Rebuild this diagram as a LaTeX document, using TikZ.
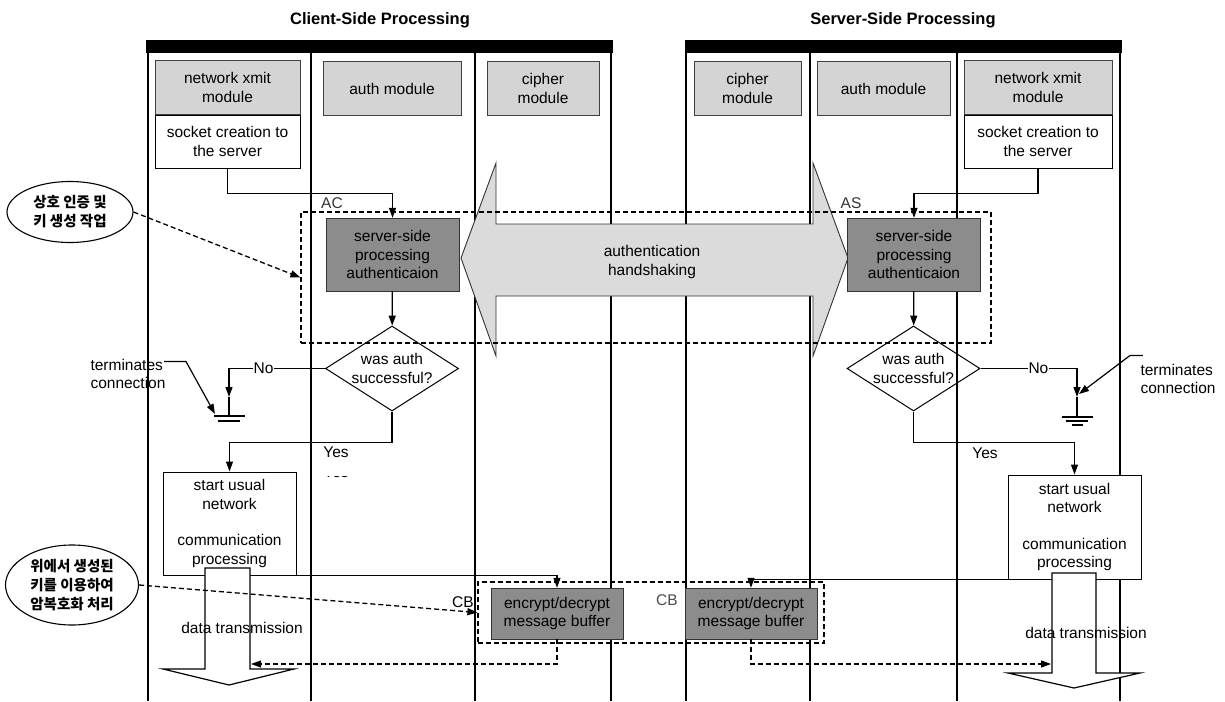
\documentclass[tikz,border=0pt]{standalone}
\usepackage{fontspec}
\setmainfont{Liberation Sans}
\newfontfamily\krfont{Noto Sans CJK KR}
\usetikzlibrary{shapes.geometric,arrows.meta,positioning}

\tikzset{
  modbox/.style={draw=black!75, fill=black!17, minimum height=54pt, align=center, inner sep=2pt},
  plainbox/.style={draw, fill=white, align=center, inner sep=2pt, line width=1pt},
  darkbox/.style={draw=black!80, fill=black!45, minimum width=133pt, minimum height=73pt, align=center},
  decision/.style={draw, diamond, aspect=1.6, inner sep=-3pt, minimum width=133pt, minimum height=85pt, align=center, line width=1pt},
  zone/.style={draw, line width=1.2pt, dash pattern=on 5pt off 3pt, inner sep=0pt},
  note/.style={draw, ellipse, line width=1.1pt, inner sep=0pt, align=center, font=\krfont\bfseries\fontsize{14.5}{19}\selectfont},
  flow/.style={-{Triangle[length=10pt,width=7pt]}, line width=1.2pt},
  dflow/.style={flow, line width=1.3pt, dash pattern=on 5pt off 3pt},
  lane/.style={line width=1.5pt},
  title/.style={font=\bfseries\fontsize{16.5}{20}\selectfont}
}

\begin{document}
\begin{tikzpicture}[x=1pt, y=-1pt, font=\fontsize{15.5}{18.5}\selectfont]
\useasboundingbox (0,0) rectangle (1225,701);

% pools and lanes
\node[title] (clienttitle) at (380,20) {Client-Side Processing};
\node[title] (servertitle) at (903,20) {Server-Side Processing};
\fill (146,40) rectangle (613,53);
\fill (685,40) rectangle (1122,53);
\foreach \x in {148,311,475,611,686,810,957,1120}
  \draw[lane] (\x,53) -- (\x,701);

% handshake arrow
\draw[fill=black!14, draw=black!80, line width=0.9pt]
  (461,258) -- (496,163) -- (496,224) -- (813,224) -- (813,163) -- (848,258)
  -- (813,356) -- (813,296) -- (496,296) -- (496,356) -- cycle;
\node[align=center] (hs) at (652,262) {authentication\\handshaking};

\node[zone, minimum width=690pt, minimum height=131pt] (authzone) at (646,277.5) {};
\node[zone, minimum width=346pt, minimum height=61pt] (cbzone) at (651,612.5) {};

% module headers
\node[modbox, minimum width=145pt] (netC) at (227.5,87.5) {network xmit\\module};
\node[plainbox, minimum width=145pt, minimum height=53pt, below=0pt of netC] (sockC) {socket creation to\\the server};
\node[modbox, minimum width=138pt] (authC) at (392,88.5) {auth module};
\node[modbox, minimum width=112pt] (ciphC) at (543,88.5) {cipher\\module};
\node[modbox, minimum width=107pt] (ciphS) at (747.5,88.5) {cipher\\module};
\node[modbox, minimum width=133pt] (authS) at (883.5,88.5) {auth module};
\node[modbox, minimum width=148pt] (netS) at (1038,87.5) {network xmit\\module};
\node[plainbox, minimum width=148pt, minimum height=53pt, below=0pt of netS] (sockS) {socket creation to\\the server};

% authentication
\node[darkbox] (procC) at (392.5,254.5) {server-side\\processing\\authenticaion};
\node[darkbox] (procS) at (914,254.5) {server-side\\processing\\authenticaion};
\node[decision] (decC) at (392,368.5) {was auth\\successful?};
\node[decision] (decS) at (913.5,368.5) {was auth\\successful?};
\node[black!80] (acl) at (332,203) {AC};
\node[black!80] (asl) at (851,203) {AS};

\draw[flow] (sockC.south) -- ++(0,25) -| (procC.north);
\draw[flow] (sockS.south) -- ++(0,25) -| (procS.north);
\draw[flow] (procC) -- (decC);
\draw[flow] (procS) -- (decS);

% terminate branches
\coordinate (gndC) at (229,397);
\coordinate (gndS) at (1077,397);
\draw[flow] (decC.west) -| node[pos=0.32, fill=white, inner sep=1pt] (noC) {No} (gndC);
\draw[flow] (decS.east) -| node[pos=0.3, fill=white, inner sep=1pt] (noS) {No} (gndS);
\draw[line width=1.2pt] (gndC) -- (229,416);
\draw[line width=1.4pt] (214,416) -- (245,416) (218,421) -- (240,421);
\draw[line width=1.2pt] (gndS) -- (1077,417);
\draw[line width=1.4pt] (1062,417) -- (1093,417) (1066,421) -- (1088,421) (1072,425) -- (1083,425);

\node[align=left] (termC) at (128,374) {terminates\\connection};
\node[align=left] (termS) at (1178,379) {terminates\\connection};
\coordinate (gndCend) at (215,414);
\coordinate (gndSend) at (1079,394);
\draw[flow] (termC.north east) ++(-5,6) -- ++(22,0) -- (gndCend);
\draw[flow] (termS.north west) ++(6,-5) -- ++(-13,0) -- (gndSend);

% usual processing
\node[plainbox, minimum width=133pt, minimum height=103pt] (startC) at (229.5,523.5)
  {start usual\\network\\[18pt]communication\\processing};
\node[plainbox, minimum width=133pt, minimum height=104pt] (startS) at (1074.5,527)
  {start usual\\network\\[18pt]communication\\processing};
\draw[flow] (decC.south) -- ++(0,31) -| (startC.north);
\draw[flow] (decS.south) -- ++(0,31) -| (startS.north);
\node (yesC) at (336,452) {Yes};
\node (yesS) at (985,453) {Yes};
\begin{scope}
  \clip (318,476) rectangle (356,490);
  \node (yesghost) at (336,472) {Yes};
\end{scope}

% data transmission arrows
\draw[fill=white, line width=1.2pt] (205,568) -- (250,568) -- (250,669) -- (294,669)
  -- (229,685) -- (163,669) -- (205,669) -- cycle;
\draw[fill=white, line width=1.2pt] (1052,573) -- (1096,573) -- (1096,673) -- (1140,673)
  -- (1074,688) -- (1008,673) -- (1052,673) -- cycle;
\node (dtC) at (242,628) {data transmission};
\node (dtS) at (1086,633) {data transmission};

% cipher buffers
\node[darkbox, minimum width=132pt, minimum height=51pt] (encC) at (557,613.5) {encrypt/decrypt\\message buffer};
\node[darkbox, minimum width=132pt, minimum height=51pt] (encS) at (751,613.5) {encrypt/decrypt\\message buffer};
\node (cbC) at (463,602) {CB};
\node[black!70] (cbS) at (667,600) {CB};
\draw[flow] (startC.south east) -| (encC.north);
\draw[flow] (startS.south west) -| (encS.north);
\coordinate (dataCin) at (251,664);
\coordinate (dataSin) at (1051,664);
\draw[dflow] (encC.south) |- (dataCin);
\draw[dflow] (encS.south) |- (dataSin);

% notes
\node[note, minimum width=126pt, minimum height=61pt] (noteA) at (70,212) {상호 인증 및\\키 생성 작업};
\node[note, minimum width=133pt, minimum height=80pt] (noteB) at (72,585) {위에서 생성된\\키를 이용하여\\암복호화 처리};
\draw[dflow] (noteA.east) -- (authzone.west);
\draw[dflow] (noteB.east) -- (cbzone.west);
\end{tikzpicture}
\end{document}
